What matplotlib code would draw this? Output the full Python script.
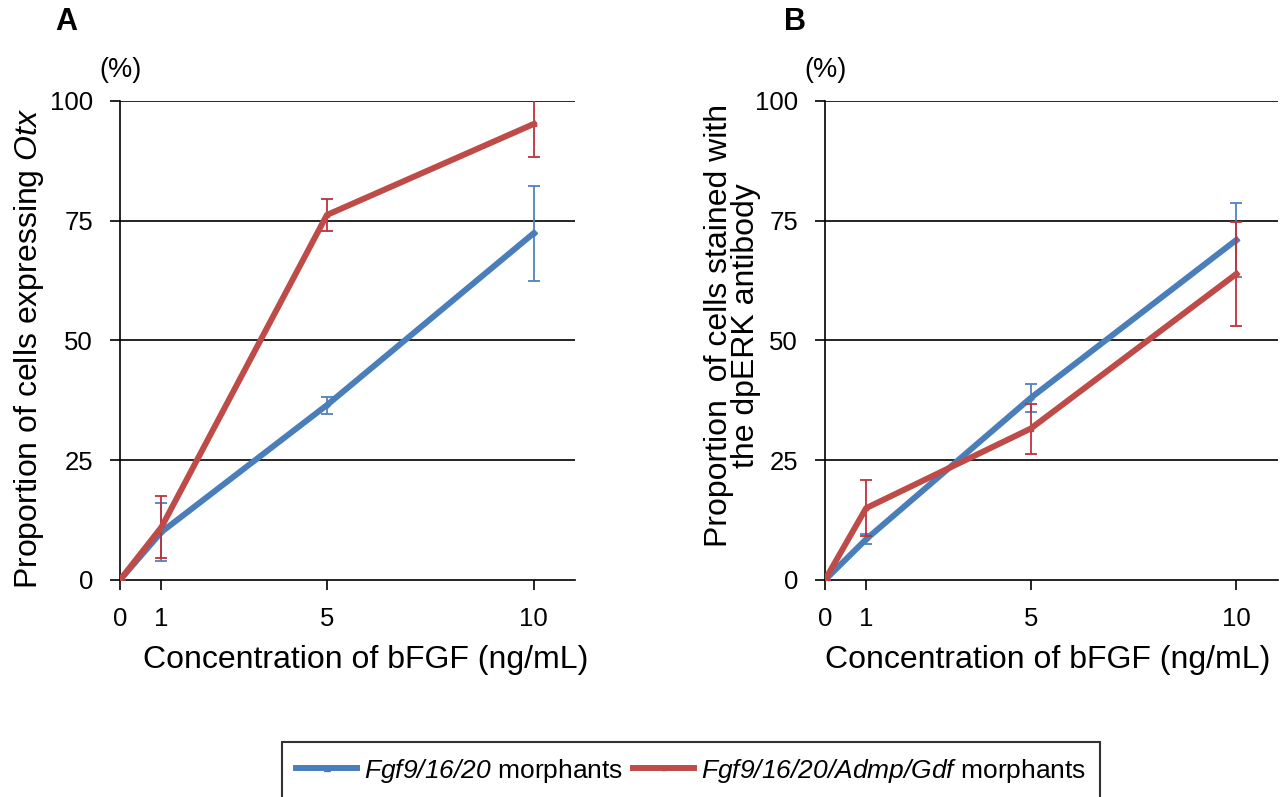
import matplotlib.pyplot as plt
from matplotlib.lines import Line2D

plt.rcParams['font.family'] = ['Liberation Sans', 'DejaVu Sans']
# mathtext is only used for the italic gene names, so make all of it italic (digits too)
plt.rcParams['mathtext.fontset'] = 'custom'
plt.rcParams['mathtext.rm'] = 'Liberation Sans:italic'
plt.rcParams['mathtext.it'] = 'Liberation Sans:italic'

conc = [0, 1, 5, 10]
xtick_labels = ['0', '1', '5', '10']
yticks = [0, 25, 50, 75, 100]

# Panel A: Otx expression (%)
a_blue = [0, 10.0, 36.5, 72.4]
a_blue_err = [0, 6.0, 1.8, 9.9]
a_red = [0, 11.0, 76.2, 95.2]
a_red_err = [0, 6.5, 3.4, 6.9]

# Panel B: dpERK staining (%)
b_blue = [0, 8.5, 38.0, 71.0]
b_blue_err = [0, 1.0, 3.0, 7.7]
b_red = [0, 15.0, 31.6, 63.9]
b_red_err = [0, 5.8, 5.2, 10.9]

series_names = [r'$Fgf9/16/20$ morphants', r'$Fgf9/16/20/Admp/Gdf$ morphants']

blue = '#4A7EBB'
red = '#BE4B48'
blue_err = '#4F81BD'
red_err = '#C0303A'

fig = plt.figure(figsize=(12.82, 7.97), dpi=100)
ax_a = fig.add_axes([0.0936, 0.2723, 0.355, 0.601])
ax_b = fig.add_axes([0.6435, 0.2723, 0.353, 0.601])


def draw_panel(ax, yb, eb, yr, er):
    for y in yticks[1:]:
        ax.axhline(y, color='black', lw=1.2, zorder=1)
    ax.errorbar(conc, yb, yerr=eb, color=blue, ecolor=blue_err, lw=4.3, elinewidth=1.3,
                capsize=4.5, capthick=1.3, marker='D', ms=3, zorder=3)
    ax.errorbar(conc, yr, yerr=er, color=red, ecolor=red_err, lw=4.3, elinewidth=1.3,
                capsize=4.5, capthick=1.3, marker='s', ms=3, zorder=4)
    ax.set_xlim(0, 11)
    ax.set_ylim(0, 100)
    ax.set_xticks(conc)
    ax.set_xticklabels(xtick_labels)
    ax.set_yticks(yticks)
    ax.tick_params(labelsize=18.5, direction='out', length=7, width=1.2, pad=12.5)
    for s in ['top', 'right']:
        ax.spines[s].set_visible(False)
    for s in ['left', 'bottom']:
        ax.spines[s].set_linewidth(1.2)
    ax.set_xlabel('Concentration of bFGF (ng/mL)', fontsize=23, va='top')
    ax.text(-0.045, 1.065, '(%)', transform=ax.transAxes, fontsize=19.5, ha='left', va='center')


draw_panel(ax_a, a_blue, a_blue_err, a_red, a_red_err)
draw_panel(ax_b, b_blue, b_blue_err, b_red, b_red_err)

ax_a.xaxis.set_label_coords(0.54, -0.136)
ax_b.xaxis.set_label_coords(0.493, -0.136)

ax_a.text(-0.2, 0.484, r'Proportion of cells expressing $Otx$', transform=ax_a.transAxes,
          rotation=90, fontsize=23, ha='center', va='center')
ax_b.text(-0.204, 0.532, 'Proportion  of cells stained with\nthe dpERK antibody', transform=ax_b.transAxes,
          rotation=90, fontsize=23, ha='center', va='center', linespacing=0.85)

fig.text(66 / 1282, 1 - 22 / 797, 'A', fontsize=22, fontweight='bold', ha='center', va='center')
fig.text(795 / 1282, 1 - 22 / 797, 'B', fontsize=22, fontweight='bold', ha='center', va='center')

handles = [Line2D([], [], color=blue, lw=4.3, marker='^', ms=4),
           Line2D([], [], color=red, lw=4.3, marker='s', ms=3.5)]
leg = fig.legend(handles, series_names, loc='upper center', bbox_to_anchor=(0.539, 0.069), ncol=2,
                 fontsize=19, frameon=True, fancybox=False, edgecolor='black', handlelength=2.3,
                 columnspacing=0.4, handletextpad=0.25, borderpad=0.55, borderaxespad=0)
leg.get_frame().set_linewidth(1.5)

fig.savefig('out.png', dpi=100)
